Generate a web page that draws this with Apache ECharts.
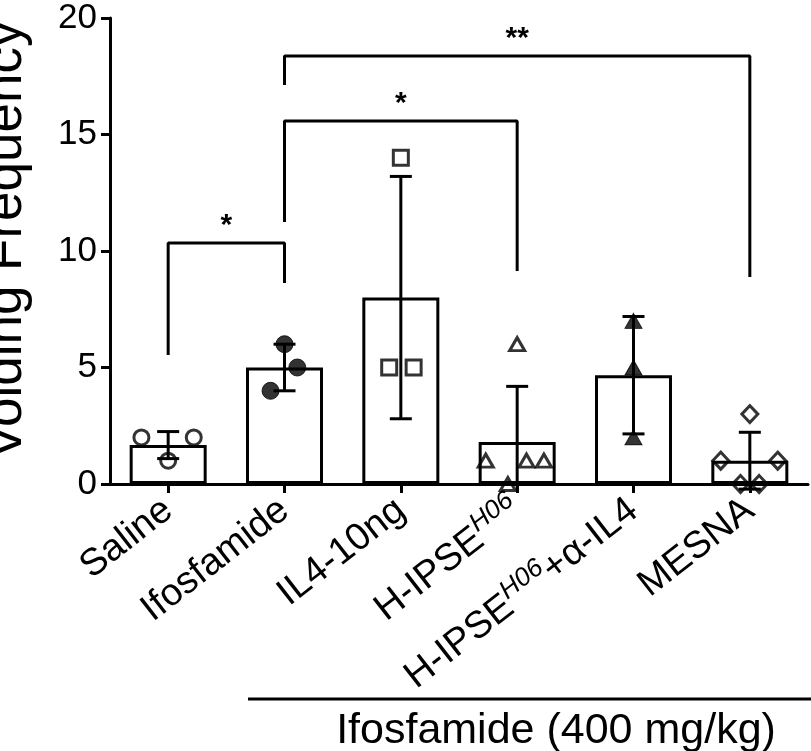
<!DOCTYPE html>
<html>
<head>
<meta charset="utf-8">
<script src="https://cdn.jsdelivr.net/npm/echarts@6/dist/echarts.min.js"></script>
<style>
  html, body { margin: 0; padding: 0; background: #fff; }
  #chart { width: 811px; height: 751px; }
</style>
</head>
<body>
<div id="chart"></div>
<script>
// ---------- data ----------
const categories = ['Saline', 'Ifosfamide', 'IL4-10ng', 'H-IPSE^H06', 'H-IPSE^H06+α-IL4', 'MESNA'];
const means = [1.67, 5.0, 8.0, 1.8, 4.67, 1.0];
const sds = [0.58, 1.0, 5.2, 2.39, 2.52, 1.22];

const salinePts = [2, 2, 1];
const ifosPts = [6, 5, 4];
const il4Pts = [14, 5, 5];
const ipsePts = [6, 1, 1, 1, 0];
const ipseAbPts = [7, 5, 2];
const mesnaPts = [3, 1, 1, 0, 0];

// horizontal jitter of individual points (fraction of a category band)
const salineJit = [-0.23, 0.22, 0];
const ifosJit = [0, 0.11, -0.12];
const il4Jit = [0, -0.1, 0.11];
const ipseJit = [0, -0.27, 0.08, 0.23, -0.08];
const ipseAbJit = [0, 0, 0];
const mesnaJit = [0, -0.25, 0.24, -0.08, 0.08];

// significance brackets
const sigFrom = [0, 1, 1];
const sigTo = [1, 3, 5];
const sigTop = [10.34, 15.58, 18.37];
const sigLeftEnd = [5.54, 11.24, 17.12];
const sigRightEnd = [8.63, 9.14, 8.88];
const sigLabels = ['*', '*', '**'];

const yTicks = [0, 5, 10, 15, 20];

// ---------- chart ----------
const chart = echarts.init(document.getElementById('chart'), null, { renderer: 'canvas' });
const FONT = 'Liberation Sans, Arial, Helvetica, sans-serif';
const BLACK = '#000';

function pts(vals, jit, idx) {
  return vals.map((v, k) => [idx + jit[k], v]);
}

const openStyle = { color: 'rgba(255,255,255,0)', borderColor: BLACK, borderWidth: 3 };
const fillStyle = { color: BLACK, borderColor: BLACK, borderWidth: 1 };

function scatter(data, symbol, size, style) {
  return {
    type: 'scatter', xAxisIndex: 1, yAxisIndex: 0, data: data,
    symbol: symbol, symbolSize: size, itemStyle: style, z: 4,
    silent: true, animation: false
  };
}

const bracketSeries = sigFrom.map((f, i) => ({
  type: 'line', xAxisIndex: 0, yAxisIndex: 0,
  data: [[f, sigLeftEnd[i]], [f, sigTop[i]], [sigTo[i], sigTop[i]], [sigTo[i], sigRightEnd[i]]],
  showSymbol: false, symbol: 'none', lineStyle: { color: BLACK, width: 3 },
  z: 3, silent: true, animation: false, clip: false
}));

const starSeries = {
  type: 'custom', xAxisIndex: 0, yAxisIndex: 0, z: 6, silent: true, animation: false, clip: false,
  data: sigFrom.map((f, i) => [f, sigTo[i], sigTop[i], i]),
  renderItem: function (params, api) {
    const p1 = api.coord([api.value(0), api.value(2)]);
    const p2 = api.coord([api.value(1), api.value(2)]);
    const lbl = sigLabels[api.value(3)];
    return {
      type: 'text',
      style: {
        text: lbl, x: (p1[0] + p2[0]) / 2, y: p1[1] - 2,
        fill: BLACK, font: 'bold 30px ' + FONT, textAlign: 'center', textVerticalAlign: 'bottom'
      }
    };
  }
};

const errSeries = {
  type: 'custom', xAxisIndex: 0, yAxisIndex: 0, z: 5, silent: true, animation: false, clip: false,
  data: means.map((m, i) => [i, m - sds[i], m + sds[i]]),
  renderItem: function (params, api) {
    const x = api.value(0);
    const loV = api.value(1), hiV = api.value(2);
    const clipLo = Math.max(loV, -0.33);
    const lo = api.coord([x, clipLo]);
    const hi = api.coord([x, hiV]);
    const hw = 11;
    const st = { stroke: BLACK, lineWidth: 3 };
    const ch = [
      { type: 'line', shape: { x1: lo[0], y1: lo[1], x2: hi[0], y2: hi[1] }, style: st },
      { type: 'line', shape: { x1: hi[0] - hw, y1: hi[1], x2: hi[0] + hw, y2: hi[1] }, style: st }
    ];
    if (clipLo === loV) {
      ch.push({ type: 'line', shape: { x1: lo[0] - hw, y1: lo[1], x2: lo[0] + hw, y2: lo[1] }, style: st });
    }
    return { type: 'group', children: ch };
  }
};

const LBL = 38;
const option = {
  backgroundColor: '#fff',
  animation: false,
  grid: { left: 110, right: 3, top: 18, bottom: 267, containLabel: false, outerBoundsMode: 'none' },
  xAxis: [
    {
      type: 'category', data: categories, boundaryGap: true,
      axisLine: { show: true, onZero: false, lineStyle: { color: BLACK, width: 3 } },
      axisTick: { show: true, alignWithLabel: true, length: 9, lineStyle: { color: BLACK, width: 3 } },
      axisLabel: {
        interval: 0, rotate: 38, margin: 22, color: BLACK, fontFamily: FONT, fontSize: LBL,
        padding: [0, 0, 0, 0],
        formatter: function (v) {
          const parts = v.split('^');
          if (parts.length === 1) return '{n|' + v + '}';
          const sup = parts[1].split('+');
          return '{n|' + parts[0] + '}{s|' + sup[0] + '}' + (sup.length > 1 ? '{n|+' + sup[1] + '}' : '');
        },
        rich: {
          n: { fontSize: LBL, fontFamily: FONT, color: BLACK, lineHeight: 48 },
          s: { fontSize: 26, fontFamily: FONT, fontStyle: 'italic', color: BLACK, lineHeight: 24, verticalAlign: 'top' }
        }
      },
      splitLine: { show: false }
    },
    {
      type: 'value', min: -0.5, max: 5.5, show: false, position: 'bottom',
      axisLine: { onZero: false }
    }
  ],
  yAxis: {
    type: 'value', min: yTicks[0], max: yTicks[yTicks.length - 1], interval: 5,
    name: 'Voiding Frequency', nameLocation: 'middle', nameGap: 77, nameMoveOverlap: false,
    nameTextStyle: { fontSize: 53, fontFamily: FONT, color: BLACK, padding: [0, 0, 0, 22] },
    axisLine: { show: true, onZero: false, lineStyle: { color: BLACK, width: 3 } },
    axisTick: { show: true, length: 9, lineStyle: { color: BLACK, width: 3 } },
    axisLabel: { color: BLACK, fontFamily: FONT, fontSize: 35, margin: 13 },
    splitLine: { show: false }
  },
  graphic: [
    { type: 'line', shape: { x1: 248, y1: 699, x2: 811, y2: 699 }, style: { stroke: BLACK, lineWidth: 3 } },
    { type: 'text', style: { text: 'Ifosfamide (400 mg/kg)', x: 556, y: 731, textAlign: 'center', textVerticalAlign: 'middle', font: '43px ' + FONT, fill: BLACK } }
  ],
  series: [
    {
      type: 'bar', xAxisIndex: 0, yAxisIndex: 0, data: means, barWidth: 77,
      itemStyle: { color: '#fff', borderColor: BLACK, borderWidth: 3 }, z: 2, silent: true
    },
    scatter(pts(salinePts, salineJit, 0), 'circle', 15, openStyle),
    scatter(pts(ifosPts, ifosJit, 1), 'circle', 17, fillStyle),
    scatter(pts(il4Pts, il4Jit, 2), 'rect', 15, openStyle),
    scatter(pts(ipsePts, ipseJit, 3), 'triangle', [15, 13], openStyle),
    scatter(pts(ipseAbPts, ipseAbJit, 4), 'triangle', [17, 15], fillStyle),
    scatter(pts(mesnaPts, mesnaJit, 5), 'diamond', [16, 17], openStyle),
    errSeries,
    starSeries
  ].concat(bracketSeries)
};
chart.setOption(option);
</script>
</body>
</html>
